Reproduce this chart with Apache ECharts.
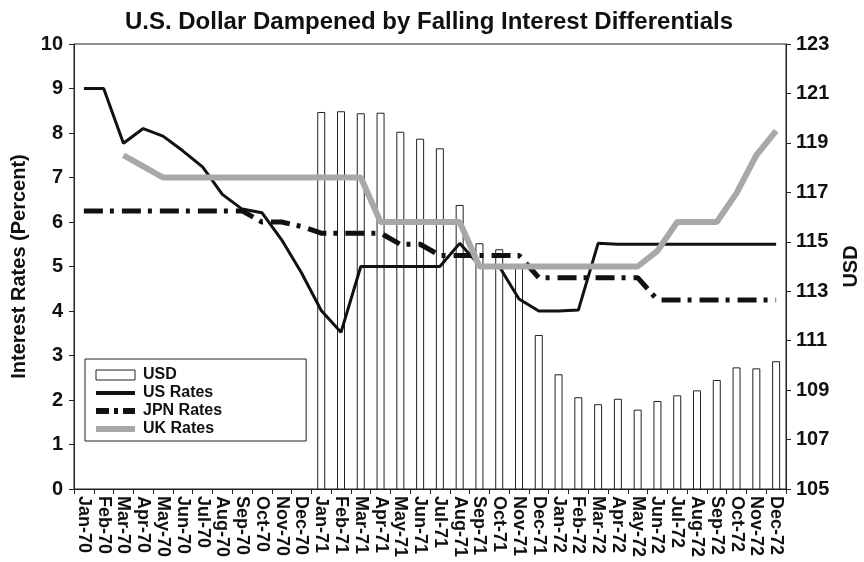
<!DOCTYPE html>
<html>
<head>
<meta charset="utf-8">
<title>U.S. Dollar Dampened by Falling Interest Differentials</title>
<script src="https://cdn.jsdelivr.net/npm/echarts@6/dist/echarts.min.js"></script>
<style>
  html, body { margin: 0; padding: 0; background: #fff; }
  #chart { width: 864px; height: 562px; }
</style>
</head>
<body>
<div id="chart"></div>
<script>
// months Jan-70 .. Dec-72
var months = ['Jan-70','Feb-70','Mar-70','Apr-70','May-70','Jun-70','Jul-70','Aug-70','Sep-70','Oct-70','Nov-70','Dec-70',
  'Jan-71','Feb-71','Mar-71','Apr-71','May-71','Jun-71','Jul-71','Aug-71','Sep-71','Oct-71','Nov-71','Dec-71',
  'Jan-72','Feb-72','Mar-72','Apr-72','May-72','Jun-72','Jul-72','Aug-72','Sep-72','Oct-72','Nov-72','Dec-72'];

// USD index (right axis), only from Jan-71
var usd = [null,null,null,null,null,null,null,null,null,null,null,null,
  120.25,120.28,120.2,120.22,119.45,119.17,118.78,116.49,114.94,114.7,114.05,111.23,
  109.64,108.71,108.43,108.65,108.21,108.56,108.79,108.99,109.41,109.92,109.88,110.17];

var usRates = [9.0,9.0,7.77,8.1,7.93,7.6,7.24,6.62,6.29,6.21,5.6,4.86,
  4.01,3.52,5.0,5.0,5.0,5.0,5.0,5.52,5.03,5.0,4.27,4.0,
  4.0,4.02,5.52,5.5,5.5,5.5,5.5,5.5,5.5,5.5,5.5,5.5];

var jpnRates = [6.25,6.25,6.25,6.25,6.25,6.25,6.25,6.25,6.25,6.0,6.0,5.9,
  5.75,5.75,5.75,5.75,5.5,5.5,5.25,5.25,5.25,5.25,5.25,4.75,
  4.75,4.75,4.75,4.75,4.75,4.25,4.25,4.25,4.25,4.25,4.25,4.25];

var ukRates = [null,null,7.5,7.25,7.0,7.0,7.0,7.0,7.0,7.0,7.0,7.0,
  7.0,7.0,7.0,6.0,6.0,6.0,6.0,6.0,5.0,5.0,5.0,5.0,
  5.0,5.0,5.0,5.0,5.0,5.35,6.0,6.0,6.0,6.65,7.5,8.05];

var leftTicks = { min: 0, max: 10, interval: 1 };
var rightTicks = { min: 105, max: 123, interval: 2 };

var font = '"Liberation Sans", Arial, Helvetica, sans-serif';
var ink = '#111';
var gray = '#a6a8ab';

var chart = echarts.init(document.getElementById('chart'));
chart.setOption({
  animation: false,
  textStyle: { fontFamily: font },
  title: {
    text: 'U.S. Dollar Dampened by Falling Interest Differentials',
    left: 424,
    textAlign: 'center',
    top: 5,
    textStyle: { fontFamily: font, fontSize: 24, fontWeight: 'bold', color: ink }
  },
  legend: {
    orient: 'vertical',
    left: 85,
    top: 359,
    padding: [8, 84, 4, 8],
    itemGap: 2,
    itemWidth: 39,
    itemHeight: 10,
    borderColor: '#222',
    borderWidth: 1,
    backgroundColor: '#fff',
    textStyle: { fontFamily: font, fontSize: 16, lineHeight: 16, fontWeight: 'bold', color: ink, padding: [0, 0, 0, 3] },
    data: [
      { name: 'USD', icon: 'rect', itemStyle: { color: '#fff', borderColor: '#222', borderWidth: 1 } },
      { name: 'US Rates', itemStyle: { opacity: 0 }, lineStyle: { color: ink, width: 4, type: 'solid' } },
      { name: 'JPN Rates', itemStyle: { opacity: 0 }, lineStyle: { color: ink, width: 6, type: [13, 5, 4, 5] } },
      { name: 'UK Rates', itemStyle: { opacity: 0 }, lineStyle: { color: gray, width: 6, type: 'solid' } }
    ]
  },
  grid: {
    left: 74,
    right: 78,
    top: 44,
    bottom: 73,
    outerBoundsMode: 'none',
    show: true,
    borderColor: '#222',
    borderWidth: 1
  },
  xAxis: {
    type: 'category',
    data: months,
    boundaryGap: true,
    axisLine: { lineStyle: { color: '#222', width: 1 } },
    axisTick: { show: true, length: 5, lineStyle: { color: '#222' } },
    axisLabel: {
      interval: 0,
      rotate: -90,
      margin: 7,
      fontFamily: font,
      fontSize: 18,
      fontWeight: 'bold',
      color: ink
    }
  },
  yAxis: [
    {
      type: 'value',
      min: leftTicks.min,
      max: leftTicks.max,
      interval: leftTicks.interval,
      name: 'Interest Rates (Percent)',
      nameLocation: 'middle',
      nameGap: 44,
      nameTextStyle: { fontFamily: font, fontSize: 20, fontWeight: 'bold', color: ink },
      axisLine: { show: true, lineStyle: { color: '#222' } },
      axisTick: { show: true, length: 5, lineStyle: { color: '#222' } },
      splitLine: { show: false },
      axisLabel: { fontFamily: font, fontSize: 20, fontWeight: 'bold', color: ink, margin: 11 }
    },
    {
      type: 'value',
      min: rightTicks.min,
      max: rightTicks.max,
      interval: rightTicks.interval,
      position: 'right',
      name: 'USD',
      nameLocation: 'middle',
      nameGap: 55,
      nameRotate: 90,
      nameTextStyle: { fontFamily: font, fontSize: 20, fontWeight: 'bold', color: ink },
      axisLine: { show: true, lineStyle: { color: '#222' } },
      axisTick: { show: true, length: 5, lineStyle: { color: '#222' } },
      splitLine: { show: false },
      axisLabel: { fontFamily: font, fontSize: 20, fontWeight: 'bold', color: ink, margin: 10 }
    }
  ],
  series: [
    {
      name: 'USD',
      type: 'bar',
      yAxisIndex: 1,
      barWidth: 8,
      data: usd,
      itemStyle: { color: '#fff', borderColor: '#222', borderWidth: 1 }
    },
    {
      name: 'US Rates',
      type: 'line',
      yAxisIndex: 0,
      data: usRates,
      symbol: 'none',
      lineStyle: { color: ink, width: 3 },
      itemStyle: { color: ink }
    },
    {
      name: 'JPN Rates',
      type: 'line',
      yAxisIndex: 0,
      data: jpnRates,
      symbol: 'none',
      lineStyle: { color: ink, width: 5, type: [19, 7, 4, 8] },
      itemStyle: { color: ink }
    },
    {
      name: 'UK Rates',
      type: 'line',
      yAxisIndex: 0,
      data: ukRates,
      symbol: 'none',
      connectNulls: false,
      lineStyle: { color: gray, width: 6 },
      itemStyle: { color: gray }
    }
  ]
});
</script>
</body>
</html>
